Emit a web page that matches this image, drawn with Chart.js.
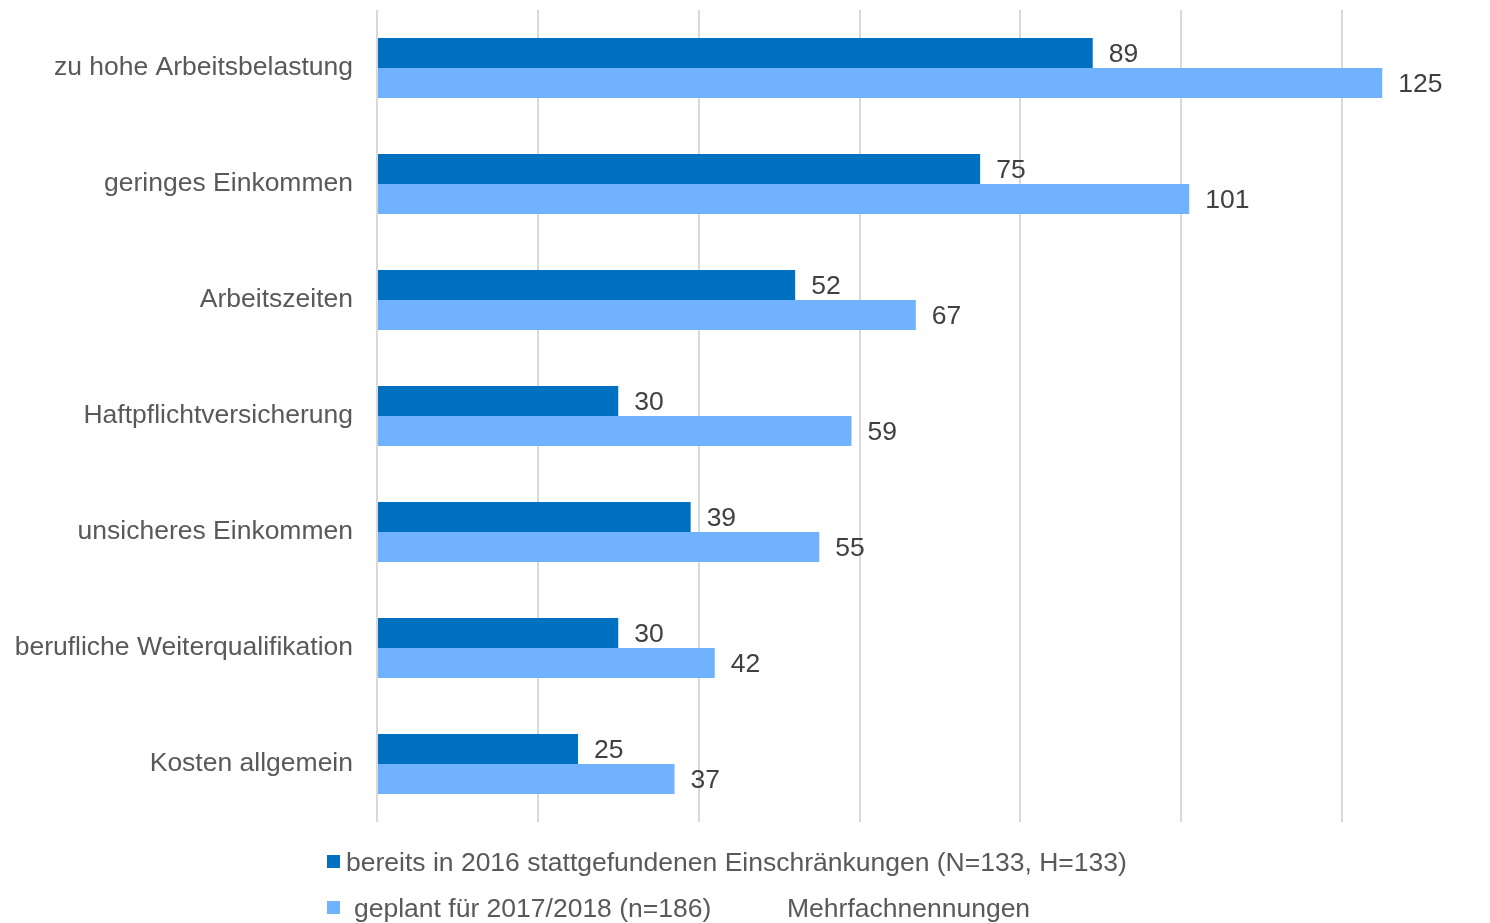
<!DOCTYPE html>
<html>
<head>
<meta charset="utf-8">
<script src="https://cdn.jsdelivr.net/npm/chart.js@4.4.0/dist/chart.umd.min.js"></script>
<style>
  body { margin: 0; background: #fff; }
  canvas { display: block; }
</style>
</head>
<body>
<canvas id="myChart" width="1490" height="923"></canvas>
<script>
const labels = [
  "zu hohe Arbeitsbelastung",
  "geringes Einkommen",
  "Arbeitszeiten",
  "Haftpflichtversicherung",
  "unsicheres Einkommen",
  "berufliche Weiterqualifikation",
  "Kosten allgemein",
]
const bereits2016 = [89, 75, 52, 30, 39, 30, 25]
const geplant = [125, 101, 67, 59, 55, 42, 37]
const seriesNames = [
  "bereits in 2016 stattgefundenen Einschränkungen (N=133, H=133)",
  "geplant für 2017/2018 (n=186)",
]
const note = "Mehrfachnennungen"

const FONT = "'Liberation Sans', Arial, sans-serif"
const SIZE = 26.5

// Zahlen rechts neben den Balken
const valueLabels = {
  id: "valueLabels",
  afterDatasetsDraw(chart) {
    const ctx = chart.ctx
    ctx.save()
    ctx.font = SIZE + "px " + FONT
    ctx.fillStyle = "#404040"
    ctx.textBaseline = "middle"
    ctx.textAlign = "left"
    chart.data.datasets.forEach(function (ds, i) {
      chart.getDatasetMeta(i).data.forEach(function (bar, j) {
        ctx.fillText(ds.data[j], bar.x + 16, bar.y + 2)
      })
    })
    ctx.restore()
  },
}

// Legende unten, zweizeilig
const bottomLegend = {
  id: "bottomLegend",
  afterDraw(chart) {
    const ctx = chart.ctx
    const ds = chart.data.datasets
    ctx.save()
    ctx.font = SIZE + "px " + FONT
    ctx.textBaseline = "middle"

    ctx.fillStyle = ds[0].backgroundColor
    ctx.fillRect(327, 855, 13, 13)
    ctx.fillStyle = "#595959"
    ctx.fillText(ds[0].label, 346, 864)

    ctx.fillStyle = ds[1].backgroundColor
    ctx.fillRect(327, 901, 13, 13)
    ctx.fillStyle = "#595959"
    ctx.fillText(ds[1].label, 354, 910)
    ctx.fillText(note, 787, 910)
    ctx.restore()
  },
}

const data = {
  labels: labels,
  datasets: [
    {
      label: seriesNames[0],
      backgroundColor: "#0070C0",
      data: bereits2016,
    },
    {
      label: seriesNames[1],
      backgroundColor: "#71B2FE",
      data: geplant,
    },
  ],
}

const config = {
  type: "bar",
  data: data,
  options: {
    indexAxis: "y",
    responsive: false,
    animation: false,
    categoryPercentage: 0.517,
    barPercentage: 1,
    layout: { padding: { top: 10, bottom: 101, right: 0, left: 0 } },
    plugins: {
      legend: { display: false },
      tooltip: { enabled: false },
    },
    scales: {
      x: {
        min: 0,
        max: 138.4,
        ticks: { display: false, stepSize: 20, includeBounds: false },
        grid: { color: "#D9D9D9", lineWidth: 2, drawTicks: false },
        border: { display: false },
      },
      y: {
        ticks: {
          color: "#595959",
          font: { family: FONT, size: SIZE },
          padding: 24,
        },
        grid: { display: false, drawTicks: false },
        border: { display: false },
        afterFit(scale) {
          scale.width = 377
          scale.paddingTop = 0
          scale.paddingBottom = 0
        },
      },
    },
  },
  plugins: [valueLabels, bottomLegend],
}

const myChart = new Chart(document.getElementById("myChart"), config)
</script>
</body>
</html>
